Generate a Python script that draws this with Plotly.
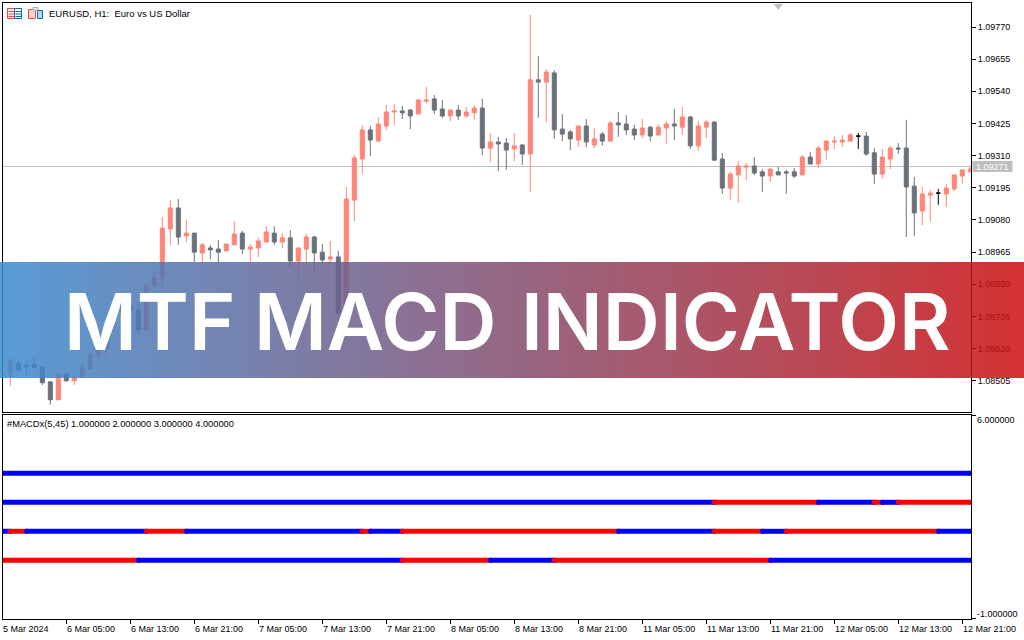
import plotly.graph_objects as go

# ── Price data ─────────────────────────────────────────────────────────────────
BAR_INDEX = list(range(122))

OPEN = [
    1.08526, 1.08527, 1.08568, 1.08561, 1.08565, 1.08554, 1.08501, 1.08437, 1.08529, 1.08505,
    1.08518, 1.08547, 1.08594, 1.08619, 1.08731, 1.08752, 1.08776, 1.08758, 1.08687, 1.08844,
    1.08870, 1.09048, 1.09123, 1.09023, 1.09033, 1.08962, 1.08980, 1.08976, 1.08969, 1.08991,
    1.09033, 1.08976, 1.08980, 1.09001, 1.09033, 1.09001, 1.09016, 1.08933, 1.08976, 1.09019,
    1.08965, 1.08940, 1.08948, 1.08776, 1.09151, 1.09298, 1.09402, 1.09362, 1.09416, 1.09466,
    1.09470, 1.09473, 1.09459, 1.09505, 1.09513, 1.09477, 1.09452, 1.09473, 1.09452, 1.09463,
    1.09480, 1.09337, 1.09359, 1.09355, 1.09334, 1.09348, 1.09316, 1.09581, 1.09573, 1.09606,
    1.09405, 1.09395, 1.09366, 1.09416, 1.09348, 1.09387, 1.09362, 1.09427, 1.09423, 1.09405,
    1.09384, 1.09412, 1.09384, 1.09409, 1.09423, 1.09412, 1.09448, 1.09345, 1.09412, 1.09430,
    1.09298, 1.09194, 1.09241, 1.09269, 1.09273, 1.09252, 1.09237, 1.09252, 1.09252, 1.09252,
    1.09241, 1.09305, 1.09280, 1.09330, 1.09359, 1.09359, 1.09362, 1.09380, 1.09380, 1.09320,
    1.09244, 1.09298, 1.09337, 1.09337, 1.09201, 1.09112, 1.09169, 1.09176, 1.09173, 1.09191,
    1.09237, 1.09252,
]
HIGH = [
    1.08534, 1.08586, 1.08586, 1.08571, 1.08589, 1.08558, 1.08504, 1.08536, 1.08533, 1.08524,
    1.08572, 1.08607, 1.08669, 1.08716, 1.08776, 1.08812, 1.08788, 1.08788, 1.08853, 1.08898,
    1.09091, 1.09151, 1.09155, 1.09080, 1.09033, 1.08998, 1.08991, 1.09008, 1.08994, 1.09076,
    1.09041, 1.08994, 1.09016, 1.09058, 1.09058, 1.09033, 1.09044, 1.08983, 1.09030, 1.09023,
    1.08994, 1.09005, 1.08969, 1.09198, 1.09312, 1.09420, 1.09416, 1.09448, 1.09491, 1.09495,
    1.09488, 1.09477, 1.09513, 1.09556, 1.09527, 1.09509, 1.09477, 1.09491, 1.09484, 1.09491,
    1.09513, 1.09391, 1.09377, 1.09373, 1.09391, 1.09352, 1.09813, 1.09666, 1.09620, 1.09616,
    1.09459, 1.09402, 1.09420, 1.09441, 1.09409, 1.09395, 1.09434, 1.09466, 1.09455, 1.09420,
    1.09441, 1.09416, 1.09420, 1.09434, 1.09477, 1.09484, 1.09452, 1.09434, 1.09438, 1.09434,
    1.09320, 1.09252, 1.09291, 1.09284, 1.09305, 1.09262, 1.09266, 1.09269, 1.09259, 1.09266,
    1.09312, 1.09323, 1.09345, 1.09366, 1.09380, 1.09384, 1.09391, 1.09391, 1.09395, 1.09337,
    1.09334, 1.09345, 1.09355, 1.09438, 1.09234, 1.09198, 1.09187, 1.09191, 1.09209, 1.09244,
    1.09259, 1.09273,
]
LOW = [
    1.08522, 1.08487, 1.08543, 1.08523, 1.08550, 1.08490, 1.08420, 1.08437, 1.08501, 1.08490,
    1.08518, 1.08543, 1.08583, 1.08591, 1.08690, 1.08734, 1.08710, 1.08672, 1.08681, 1.08824,
    1.08824, 1.08991, 1.08991, 1.09001, 1.08929, 1.08925, 1.08940, 1.08923, 1.08969, 1.08991,
    1.08958, 1.08930, 1.08948, 1.08998, 1.08991, 1.08980, 1.08912, 1.08874, 1.08925, 1.08895,
    1.08921, 1.08923, 1.08740, 1.08695, 1.09076, 1.09244, 1.09309, 1.09359, 1.09402, 1.09420,
    1.09441, 1.09405, 1.09459, 1.09498, 1.09459, 1.09445, 1.09434, 1.09438, 1.09445, 1.09438,
    1.09312, 1.09287, 1.09255, 1.09259, 1.09291, 1.09277, 1.09180, 1.09445, 1.09430, 1.09370,
    1.09362, 1.09330, 1.09341, 1.09341, 1.09337, 1.09345, 1.09362, 1.09377, 1.09384, 1.09366,
    1.09373, 1.09362, 1.09380, 1.09352, 1.09366, 1.09384, 1.09334, 1.09327, 1.09373, 1.09291,
    1.09173, 1.09151, 1.09141, 1.09223, 1.09241, 1.09180, 1.09216, 1.09241, 1.09173, 1.09230,
    1.09241, 1.09280, 1.09266, 1.09294, 1.09334, 1.09341, 1.09359, 1.09334, 1.09309, 1.09209,
    1.09227, 1.09262, 1.09316, 1.09019, 1.09023, 1.09062, 1.09073, 1.09134, 1.09126, 1.09184,
    1.09209, 1.09252,
]
CLOSE = [
    1.08530, 1.08579, 1.08543, 1.08555, 1.08552, 1.08498, 1.08437, 1.08529, 1.08505, 1.08516,
    1.08551, 1.08597, 1.08619, 1.08695, 1.08752, 1.08794, 1.08756, 1.08687, 1.08847, 1.08873,
    1.09051, 1.09123, 1.09019, 1.09033, 1.08965, 1.08991, 1.08973, 1.08965, 1.08994, 1.09030,
    1.08976, 1.08983, 1.09005, 1.09037, 1.09001, 1.09016, 1.08933, 1.08980, 1.09019, 1.08962,
    1.08937, 1.08948, 1.08746, 1.09155, 1.09302, 1.09402, 1.09366, 1.09423, 1.09466, 1.09470,
    1.09463, 1.09452, 1.09509, 1.09509, 1.09473, 1.09452, 1.09473, 1.09452, 1.09466, 1.09480,
    1.09337, 1.09359, 1.09352, 1.09330, 1.09345, 1.09316, 1.09581, 1.09573, 1.09609, 1.09402,
    1.09387, 1.09370, 1.09416, 1.09359, 1.09370, 1.09362, 1.09427, 1.09420, 1.09402, 1.09384,
    1.09409, 1.09380, 1.09412, 1.09423, 1.09416, 1.09448, 1.09345, 1.09416, 1.09430, 1.09294,
    1.09194, 1.09244, 1.09273, 1.09273, 1.09248, 1.09237, 1.09262, 1.09241, 1.09248, 1.09237,
    1.09305, 1.09280, 1.09337, 1.09362, 1.09362, 1.09366, 1.09384, 1.09380, 1.09316, 1.09244,
    1.09305, 1.09337, 1.09334, 1.09198, 1.09105, 1.09173, 1.09176, 1.09176, 1.09194, 1.09241,
    1.09259, 1.09262,
]

PRICE_TICKS = [1.09770, 1.09655, 1.09540, 1.09425, 1.09310, 1.09195,
               1.09080, 1.08965, 1.08850, 1.08735, 1.08620, 1.08505]
CURRENT_PRICE = 1.09271
SEPARATOR_BAR = 97
SEPARATOR_PRICE = 1.09845

TIME_TICK_BARS = list(range(0, 121, 8))
TIME_TICK_LABELS = [
    "5 Mar 2024", "6 Mar 05:00", "6 Mar 13:00", "6 Mar 21:00", "7 Mar 05:00", "7 Mar 13:00",
    "7 Mar 21:00", "8 Mar 05:00", "8 Mar 13:00", "8 Mar 21:00", "11 Mar 05:00", "11 Mar 13:00",
    "11 Mar 21:00", "12 Mar 05:00", "12 Mar 13:00", "12 Mar 21:00",
]

# ── MACD panel: bar where each colour run starts on each level ────────────────
LAST_BAR = 121
LEVEL_4_RUNS = [(0, "blue")]
LEVEL_3_RUNS = [(0, "blue"), (89, "red"), (102, "blue"), (109, "red"), (110, "blue"), (112, "red")]
LEVEL_2_RUNS = [(0, "blue"), (1, "red"), (3, "blue"), (18, "red"), (23, "blue"), (45, "red"),
                (46, "blue"), (50, "red"), (77, "blue"), (89, "red"), (95, "blue"), (98, "red"),
                (117, "blue")]
LEVEL_1_RUNS = [(0, "red"), (17, "blue"), (50, "red"), (61, "blue"), (69, "red"), (96, "blue")]
MACD_LEVELS = {4: LEVEL_4_RUNS, 3: LEVEL_3_RUNS, 2: LEVEL_2_RUNS, 1: LEVEL_1_RUNS}
MACD_TICKS = [6, -1]

# ── Styling ───────────────────────────────────────────────────────────────────
W, H = 1024, 640
UP_COLOR = "#FF8578"
DOWN_COLOR = "#6A717B"
DOJI_COLOR = "#000000"
PRICE_LINE_COLOR = "#BEBEBE"
TEXT_FONT = "Liberation Sans"
BANNER_LEFT = (59, 138, 207)
BANNER_RIGHT = (204, 14, 14)
BANNER_OPACITY = 0.85


def px_x(x):
    return x / W


def px_y(y):
    return 1 - y / H


def text_at(x, y, text, size=9, color="#000000", anchor="left", **kwargs):
    return dict(xref="paper", yref="paper", x=px_x(x), y=px_y(y), text=text, showarrow=False,
                xanchor=anchor, yanchor="middle", borderpad=0,
                font=dict(family=TEXT_FONT, size=size, color=color), **kwargs)


def banner_word(x, text):
    return dict(xref="paper", yref="paper", x=px_x(x), y=px_y(320.5), text=text,
                showarrow=False, xanchor="center", yanchor="middle",
                font=dict(family="Inter", size=79, color="#FFFFFF", weight=600))


def rect(x0, y0, x1, y1, fill=None, line=None, layer="above"):
    return dict(type="rect", xref="paper", yref="paper", layer=layer,
                x0=px_x(x0), x1=px_x(x1), y0=px_y(y0), y1=px_y(y1),
                fillcolor=fill or "rgba(0,0,0,0)",
                line=dict(color=line or "rgba(0,0,0,0)", width=1 if line else 0))


def candle_trace(bars, inc_color, dec_color):
    return go.Candlestick(
        x=bars,
        open=[OPEN[i] for i in bars],
        high=[HIGH[i] for i in bars],
        low=[LOW[i] for i in bars],
        close=[CLOSE[i] for i in bars],
        increasing=dict(line=dict(color=inc_color, width=1), fillcolor=inc_color),
        decreasing=dict(line=dict(color=dec_color, width=1), fillcolor=dec_color),
        whiskerwidth=0,
        xaxis="x",
        yaxis="y",
        showlegend=False,
    )


fig = go.Figure()

plain_bars = [i for i in BAR_INDEX if OPEN[i] != CLOSE[i]]
doji_bars = [i for i in BAR_INDEX if OPEN[i] == CLOSE[i]]
fig.add_trace(candle_trace(plain_bars, UP_COLOR, DOWN_COLOR))
fig.add_trace(candle_trace(doji_bars, DOJI_COLOR, DOJI_COLOR))

fig.add_trace(go.Scatter(
    x=[SEPARATOR_BAR], y=[SEPARATOR_PRICE], mode="markers", xaxis="x", yaxis="y",
    marker=dict(symbol="triangle-down", size=8, color="#C0C0C0"), showlegend=False,
))

for level, runs in MACD_LEVELS.items():
    for k, (start, color) in enumerate(runs):
        end = runs[k + 1][0] if k + 1 < len(runs) else LAST_BAR
        fig.add_trace(go.Scatter(
            x=[start, end], y=[level, level], mode="lines+markers", xaxis="x2", yaxis="y2",
            line=dict(color=color, width=5), marker=dict(color=color, size=5), showlegend=False,
        ))

# current price line and its label box
shapes = [
    dict(type="line", xref="x domain", yref="y", x0=0, x1=1,
         y0=CURRENT_PRICE, y1=CURRENT_PRICE, layer="below",
         line=dict(color=PRICE_LINE_COLOR, width=1)),
    rect(972.5, 161, 1012.5, 172, fill=PRICE_LINE_COLOR),
]

# toolbar icons next to the chart title
shapes += [
    rect(7.5, 8.5, 14.5, 18.5, line="#F04438"),
    rect(14.5, 8.5, 21.5, 18.5, line="#1565A8"),
    rect(28.5, 9.5, 35.5, 18.5, fill="#FFD9D2", line="#F04438"),
    rect(37.5, 10.5, 42.5, 18.5, fill="#A8DCF5", line="#1565A8"),
    rect(33, 7.5, 38, 10, fill="#F0F0F0", line="#B0A8B8"),
]
for line_y in (11, 13.5, 16):
    shapes.append(rect(8.5, line_y, 14, line_y + 1, fill="#F04438"))
    shapes.append(rect(15.5, line_y, 21, line_y + 1, fill="#1565A8"))

# gradient banner across the chart, a stack of thin strips
STRIP = 4
for x in range(0, W, STRIP):
    t = (x + STRIP / 2) / W
    r, g, b = [round(a + (c - a) * t) for a, c in zip(BANNER_LEFT, BANNER_RIGHT)]
    shapes.append(rect(x, 262, x + STRIP, 378, fill=f"rgba({r},{g},{b},{BANNER_OPACITY})"))

annotations = [
    text_at(48, 13.5, "EURUSD, H1:  Euro vs US Dollar", size=9.5),
    text_at(6, 423.5, "#MACDx(5,45) 1.000000 2.000000 3.000000 4.000000", size=9.3),
    text_at(992.5, 166.5, f"{CURRENT_PRICE:.5f}", color="#FFFFFF", anchor="center"),
    text_at(976, 419.5, "6.000000"),
    text_at(976, 613.5, "-1.000000"),
    banner_word(149.5, "MTF"),
    banner_word(375, "MACD"),
    banner_word(736, "INDICATOR"),
]
x_scale = 8
for bar, label in zip(TIME_TICK_BARS, TIME_TICK_LABELS):
    annotations.append(text_at(2 + bar * x_scale, 628.5, label))

frame = dict(showline=True, linecolor="#000000", linewidth=1, mirror=True, showgrid=False,
             zeroline=False)
bar_range = [0.0875, 121.09]
x_domain = [px_x(3), px_x(971)]

fig.update_layout(
    width=W,
    height=H,
    margin=dict(l=0, r=0, t=0, b=0),
    paper_bgcolor="#FFFFFF",
    plot_bgcolor="#FFFFFF",
    showlegend=False,
    boxmode="overlay",
    boxgap=0.5,
    boxgroupgap=0,
    font=dict(family=TEXT_FONT, size=9, color="#000000"),
    shapes=shapes,
    annotations=annotations,
    xaxis=dict(domain=x_domain, range=bar_range, anchor="y", showticklabels=False, ticks="",
               rangeslider=dict(visible=False), **frame),
    yaxis=dict(domain=[px_y(412), px_y(3)], range=[1.083933, 1.098559], anchor="x",
               side="right", tickmode="array", tickvals=PRICE_TICKS,
               ticktext=[f"{v:.5f}" for v in PRICE_TICKS], ticks="outside", ticklen=4,
               tickcolor="#000000", tickfont=dict(family=TEXT_FONT, size=9), **frame),
    xaxis2=dict(domain=x_domain, range=bar_range, anchor="y2", tickmode="array",
                tickvals=TIME_TICK_BARS, ticktext=["" for _ in TIME_TICK_BARS], ticks="outside",
                ticklen=4, tickcolor="#000000", **frame),
    yaxis2=dict(domain=[px_y(619), px_y(415)], range=[-1.024, 6.010], anchor="x2",
                side="right", tickmode="array", tickvals=MACD_TICKS,
                ticktext=["" for _ in MACD_TICKS], ticks="outside", ticklen=4,
                tickcolor="#000000", **frame),
)

fig.write_html(
    "out.html",
    config={"displayModeBar": False},
    post_script="document.body.style.margin='0';document.body.style.overflow='hidden';",
)
